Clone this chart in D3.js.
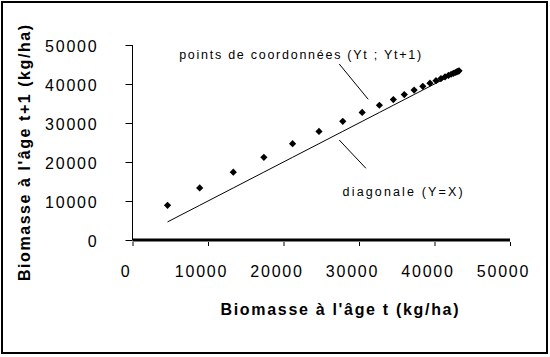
<!DOCTYPE html>
<html>
<head>
<meta charset="utf-8">
<script src="https://cdn.jsdelivr.net/npm/d3@7"></script>
<style>
  html, body { margin: 0; padding: 0; background: #fff; }
  svg { display: block; }
  text { font-family: "Liberation Sans", Arial, sans-serif; fill: #000; }
</style>
</head>
<body>
<svg id="chart" width="550" height="357"></svg>
<script>
// ---- data ----
const biomassT  = [4640, 8900, 13350, 17400, 21200, 24700, 27850, 30420, 32700, 34550, 36000, 37300, 38450, 39400, 40200, 40850, 41400, 41850, 42200, 42500, 42750, 42950, 43100, 43250];
const biomassT1 = [8900, 13350, 17400, 21200, 24700, 27850, 30420, 32700, 34550, 36000, 37300, 38450, 39400, 40200, 40850, 41400, 41850, 42200, 42500, 42750, 42950, 43100, 43250, 43380];
const xTicks = [0, 10000, 20000, 30000, 40000, 50000];
const yTicks = [0, 10000, 20000, 30000, 40000, 50000];
const xTitle = "Biomasse à l'âge t (kg/ha)";
const yTitle = "Biomasse à l'âge t+1 (kg/ha)";
const pointsLabel = "points de coordonnées (Yt ; Yt+1)";
const diagLabel = "diagonale (Y=X)";
// annotation anchors in data units
const pointsLabelAt = [6180, 46330];
const pointsLeader = [[27380, 45130], [31220, 36080]];
const diagLabelAt = [27830, 11360];
const diagLeader = [[27380, 25640], [30920, 18380]];

const svg = d3.select("#chart");

// outer frame
svg.append("rect")
  .attr("x", 2).attr("y", 2).attr("width", 545).attr("height", 351)
  .attr("fill", "#fff").attr("stroke", "#000").attr("stroke-width", 2);

const x = d3.scaleLinear().domain([0, 50000]).range([132.5, 510]);
const y = d3.scaleLinear().domain([0, 50000]).range([240, 45]);

// y axis
const gy = svg.append("g").attr("transform", "translate(132.5,0)")
  .call(d3.axisLeft(y).tickValues(yTicks).tickFormat(d3.format("d")).tickSize(7).tickPadding(27));
gy.select(".domain").attr("stroke", "#000").attr("stroke-width", 1)
  .attr("d", `M0,${y(50000)}V${y(0)}`);
gy.selectAll(".tick line").attr("stroke", "#000");
gy.selectAll(".tick text")
  .attr("font-size", 16).attr("letter-spacing", "1.8px").attr("dy", "0.42em")
  .style("font-family", "'Liberation Sans', Arial, sans-serif");

// x axis
const gx = svg.append("g").attr("transform", "translate(0,240)")
  .call(d3.axisBottom(x).tickValues(xTicks).tickFormat(d3.format("d")).tickSize(6).tickPadding(20));
gx.select(".domain").attr("stroke", "#000").attr("stroke-width", 3)
  .attr("d", `M${x(0)},0H${x(50000)}`);
gx.selectAll(".tick line").attr("stroke", "#000").attr("y1", 2);
gx.selectAll(".tick text")
  .attr("font-size", 16).attr("letter-spacing", "1.8px").attr("dx", -7)
  .style("font-family", "'Liberation Sans', Arial, sans-serif");

// diagonal Y = X
const diag = biomassT.map(v => [v, v]).concat([[biomassT1[biomassT1.length - 1], biomassT1[biomassT1.length - 1]]]);
svg.append("path")
  .datum(diag)
  .attr("fill", "none").attr("stroke", "#000").attr("stroke-width", 1)
  .attr("d", d3.line().x(d => x(d[0])).y(d => y(d[1])));

// points (Yt ; Yt+1)
const diamond = d3.symbol().type(d3.symbolSquare).size(26);
svg.append("g").selectAll("path")
  .data(biomassT.map((v, i) => [v, biomassT1[i]]))
  .join("path")
  .attr("d", diamond)
  .attr("transform", d => `translate(${x(d[0])},${y(d[1])}) rotate(45)`)
  .attr("fill", "#000");

// annotations
svg.append("text")
  .attr("x", x(pointsLabelAt[0])).attr("y", y(pointsLabelAt[1]))
  .attr("font-size", 12.5).attr("textLength", 242).attr("lengthAdjust", "spacing")
  .text(pointsLabel);
svg.append("line")
  .attr("x1", x(pointsLeader[0][0])).attr("y1", y(pointsLeader[0][1]))
  .attr("x2", x(pointsLeader[1][0])).attr("y2", y(pointsLeader[1][1]))
  .attr("stroke", "#000").attr("stroke-width", 1);
svg.append("text")
  .attr("x", x(diagLabelAt[0])).attr("y", y(diagLabelAt[1]))
  .attr("font-size", 12.5).attr("textLength", 120).attr("lengthAdjust", "spacing")
  .text(diagLabel);
svg.append("line")
  .attr("x1", x(diagLeader[0][0])).attr("y1", y(diagLeader[0][1]))
  .attr("x2", x(diagLeader[1][0])).attr("y2", y(diagLeader[1][1]))
  .attr("stroke", "#000").attr("stroke-width", 1);

// axis titles
svg.append("text")
  .attr("x", 339.5).attr("y", 315)
  .attr("text-anchor", "middle").attr("font-size", 16).attr("font-weight", "bold")
  .attr("textLength", 238).attr("lengthAdjust", "spacing")
  .text(xTitle);
svg.append("text")
  .attr("transform", "translate(30,153) rotate(-90)")
  .attr("text-anchor", "middle").attr("font-size", 16).attr("font-weight", "bold")
  .attr("textLength", 256).attr("lengthAdjust", "spacing")
  .text(yTitle);
</script>
</body>
</html>
